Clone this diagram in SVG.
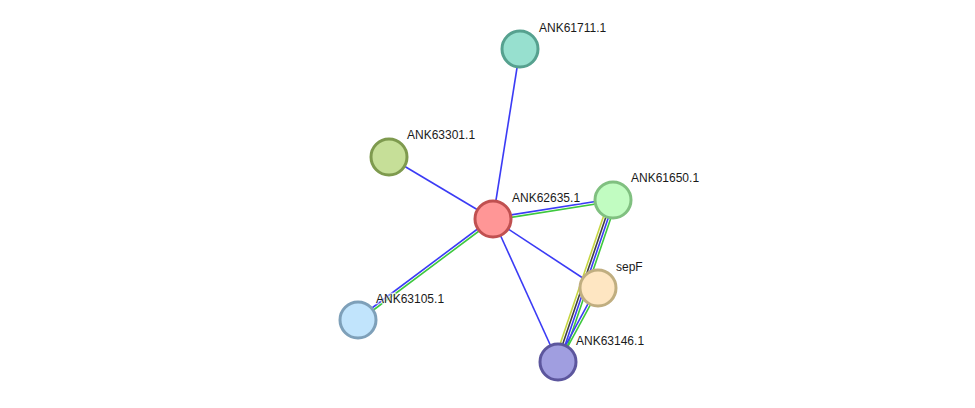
<svg xmlns="http://www.w3.org/2000/svg" width="975" height="408" viewBox="0 0 975 408">
<style>
.e line{stroke-width:1.6;fill:none}
.b{stroke:#3b3bf5}
.g{stroke:#3dc83d}
.y{stroke:#c6d640}
.k{stroke:#404040}
.n circle{stroke-width:3}
.n text{font-family:"Liberation Sans",Arial,sans-serif;font-size:12px;fill:#1a1a1a;paint-order:stroke;stroke:#fff;stroke-width:2.5px;stroke-opacity:0.7}
</style>
<rect width="975" height="408" fill="#fff"/>
<g id="edges" class="e">
<line class="b" x1="493" y1="219" x2="520" y2="49"/>
<line class="b" x1="493" y1="219" x2="389" y2="157"/>
<line class="b" x1="493" y1="219" x2="598" y2="288"/>
<line class="b" x1="493" y1="219" x2="558" y2="362"/>
<line class="b" x1="492.8" y1="217.8" x2="612.8" y2="198.8"/>
<line class="g" x1="493.2" y1="220.2" x2="613.2" y2="201.2"/>
<line class="b" x1="492.25" y1="218" x2="357.25" y2="319"/>
<line class="g" x1="493.75" y1="220" x2="358.75" y2="321"/>
<line class="y" x1="609.45" y1="198.79" x2="554.45" y2="360.79"/>
<line class="k" x1="611.82" y1="199.6" x2="556.82" y2="361.6"/>
<line class="b" x1="614.18" y1="200.4" x2="559.18" y2="362.4"/>
<line class="g" x1="616.55" y1="201.21" x2="561.55" y2="363.21"/>
<line class="b" x1="596.9" y1="287.4" x2="556.9" y2="361.4"/>
<line class="g" x1="599.1" y1="288.6" x2="559.1" y2="362.6"/>
</g>
<g id="ANK61711.1" class="n"><circle cx="520" cy="49" r="18" fill="#97e0cf" stroke="#56a18f"/><text x="539" y="32">ANK61711.1</text></g>
<g id="ANK63301.1" class="n"><circle cx="389" cy="157" r="18" fill="#c6df98" stroke="#7e9a4e"/><text x="407" y="139">ANK63301.1</text></g>
<g id="ANK62635.1" class="n"><circle cx="493" cy="219" r="18" fill="#ff9696" stroke="#c05050"/><text x="512" y="202">ANK62635.1</text></g>
<g id="ANK61650.1" class="n"><circle cx="613" cy="200" r="18" fill="#c1fcc1" stroke="#80c080"/><text x="631" y="182">ANK61650.1</text></g>
<g id="sepF" class="n"><circle cx="598" cy="288" r="18" fill="#fee6c2" stroke="#c0ae80"/><text x="616" y="271">sepF</text></g>
<g id="ANK63105.1" class="n"><circle cx="358" cy="320" r="18" fill="#c1e4fc" stroke="#7ea0b9"/><text x="376" y="303">ANK63105.1</text></g>
<g id="ANK63146.1" class="n"><circle cx="558" cy="362" r="18" fill="#a09ee0" stroke="#5c569d"/><text x="576" y="345">ANK63146.1</text></g>
</svg>
